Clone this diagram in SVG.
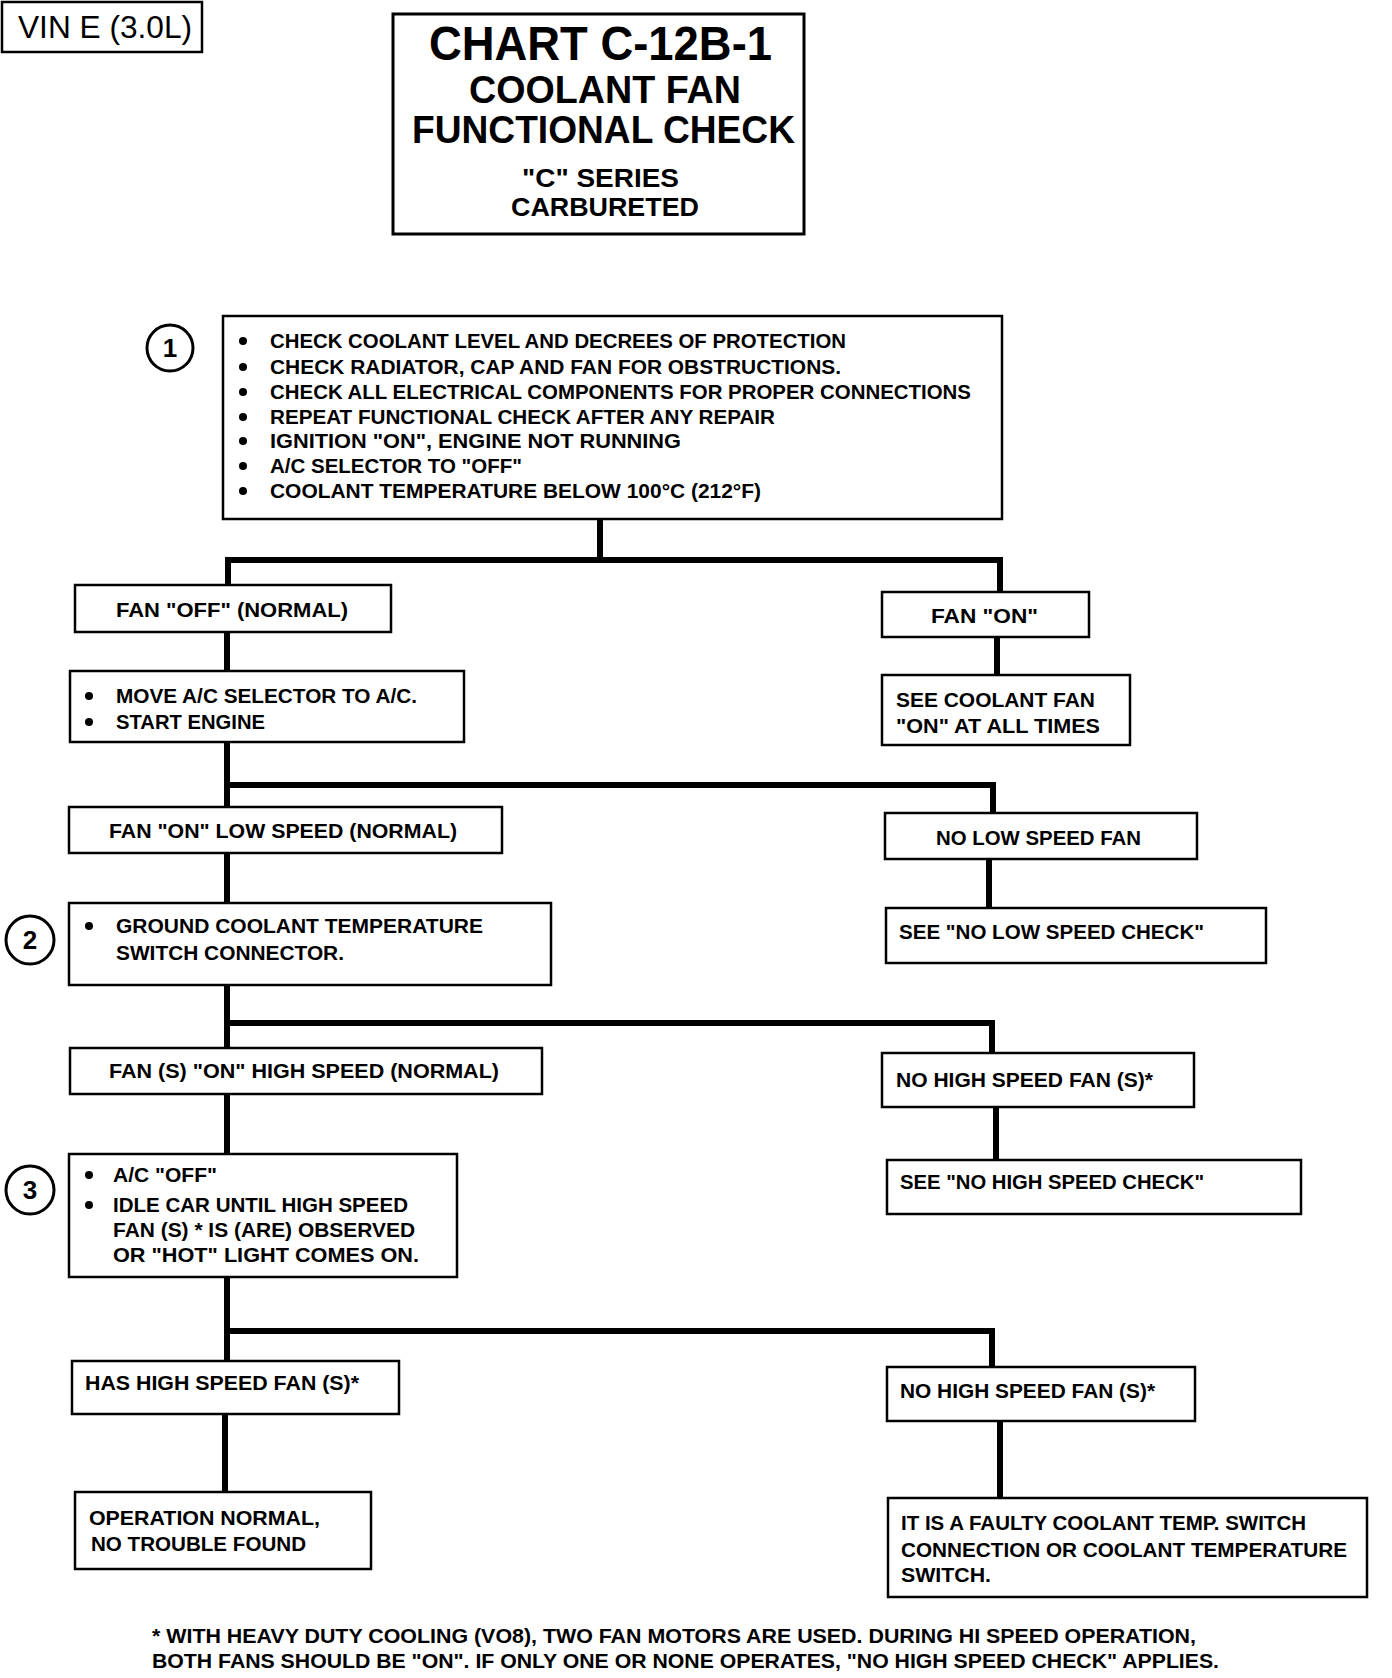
<svg xmlns="http://www.w3.org/2000/svg" width="1392" height="1678" viewBox="0 0 1392 1678">
<style>
.box{fill:#fff;stroke:#000;stroke-width:2.5}
.t{font-family:"Liberation Sans",Arial,sans-serif;font-weight:bold;font-size:21px;fill:#000}
.c{stroke:#000;stroke-width:6;fill:none;stroke-linecap:square}
.num{fill:#fff;stroke:#000;stroke-width:3}
.nt{font-family:"Liberation Sans",Arial,sans-serif;font-weight:bold;font-size:26px;fill:#000;text-anchor:middle}
</style>
<rect width="1392" height="1678" fill="#fff"/>
<g id="connectors">
<polyline class="c" points="600,519 600,560"/>
<polyline class="c" points="228,585 228,560 1000,560 1000,592"/>
<line class="c" x1="227" y1="632" x2="227" y2="670"/>
<line class="c" x1="997" y1="637" x2="997" y2="675"/>
<polyline class="c" points="227,742 227,807"/>
<polyline class="c" points="227,785 993,785 993,813"/>
<line class="c" x1="989" y1="859" x2="989" y2="908"/>
<line class="c" x1="227" y1="853" x2="227" y2="902"/>
<polyline class="c" points="227,985 227,1048"/>
<polyline class="c" points="227,1023 992,1023 992,1053"/>
<line class="c" x1="996" y1="1107" x2="996" y2="1160"/>
<line class="c" x1="227" y1="1094" x2="227" y2="1153"/>
<polyline class="c" points="227,1277 227,1361"/>
<polyline class="c" points="227,1331 992,1331 992,1367"/>
<line class="c" x1="225" y1="1414" x2="225" y2="1492"/>
<line class="c" x1="1000" y1="1421" x2="1000" y2="1497"/>
</g>
<g id="vin">
<rect x="2" y="2" width="200" height="50" fill="#fff" stroke="#000" stroke-width="2.5"/>
<text x="18" y="38" font-family="'Liberation Sans',Arial,sans-serif" font-size="31" textLength="174" lengthAdjust="spacingAndGlyphs">VIN E (3.0L)</text>
</g>
<g id="title">
<rect x="393" y="14" width="411" height="220" fill="#fff" stroke="#000" stroke-width="3"/>
<text class="t" x="429" y="60" style="font-size:48px" textLength="343" lengthAdjust="spacingAndGlyphs">CHART C-12B-1</text>
<text class="t" x="469" y="103" style="font-size:38px" textLength="272" lengthAdjust="spacingAndGlyphs">COOLANT FAN</text>
<text class="t" x="412" y="143" style="font-size:38px" textLength="383" lengthAdjust="spacingAndGlyphs">FUNCTIONAL  CHECK</text>
<text class="t" x="522" y="187" style="font-size:26px" textLength="157" lengthAdjust="spacingAndGlyphs">"C" SERIES</text>
<text class="t" x="511" y="216" style="font-size:26px" textLength="188" lengthAdjust="spacingAndGlyphs">CARBURETED</text>
</g>
<g id="step1">
<circle class="num" cx="170" cy="348" r="23"/>
<text class="nt" x="170" y="357">1</text>
</g>
<g id="box1">
<rect class="box" x="223" y="316" width="779" height="203"/>
<circle cx="243" cy="341" r="4"/><text class="t" x="270" y="348" textLength="576" lengthAdjust="spacingAndGlyphs">CHECK COOLANT LEVEL AND DECREES OF PROTECTION</text>
<circle cx="243" cy="367" r="4"/><text class="t" x="270" y="374" textLength="571" lengthAdjust="spacingAndGlyphs">CHECK RADIATOR, CAP AND FAN FOR OBSTRUCTIONS.</text>
<circle cx="243" cy="392" r="4"/><text class="t" x="270" y="399" textLength="701" lengthAdjust="spacingAndGlyphs">CHECK ALL ELECTRICAL COMPONENTS FOR PROPER CONNECTIONS</text>
<circle cx="243" cy="417" r="4"/><text class="t" x="270" y="424" textLength="505" lengthAdjust="spacingAndGlyphs">REPEAT FUNCTIONAL CHECK AFTER ANY REPAIR</text>
<circle cx="243" cy="441" r="4"/><text class="t" x="270" y="448" textLength="411" lengthAdjust="spacingAndGlyphs">IGNITION "ON", ENGINE NOT RUNNING</text>
<circle cx="243" cy="466" r="4"/><text class="t" x="270" y="473" textLength="252" lengthAdjust="spacingAndGlyphs">A/C SELECTOR TO "OFF"</text>
<circle cx="243" cy="491" r="4"/><text class="t" x="270" y="498" textLength="491" lengthAdjust="spacingAndGlyphs">COOLANT TEMPERATURE BELOW 100°C (212°F)</text>
</g>
<g id="fan-off">
<rect class="box" x="75" y="585" width="316" height="47"/>
<text class="t" x="116" y="617" textLength="232" lengthAdjust="spacingAndGlyphs">FAN "OFF" (NORMAL)</text>
</g>
<g id="move-ac">
<rect class="box" x="70" y="671" width="394" height="71"/>
<circle cx="89" cy="696" r="4"/><text class="t" x="116" y="703" textLength="301" lengthAdjust="spacingAndGlyphs">MOVE A/C SELECTOR TO A/C.</text>
<circle cx="89" cy="722" r="4"/><text class="t" x="116" y="729" textLength="149" lengthAdjust="spacingAndGlyphs">START ENGINE</text>
</g>
<g id="fan-on">
<rect class="box" x="882" y="592" width="207" height="45"/>
<text class="t" x="931" y="623" textLength="107" lengthAdjust="spacingAndGlyphs">FAN "ON"</text>
</g>
<g id="see-on-all">
<rect class="box" x="882" y="675" width="248" height="70"/>
<text class="t" x="896" y="707" textLength="199" lengthAdjust="spacingAndGlyphs">SEE  COOLANT FAN</text>
<text class="t" x="896" y="733" textLength="204" lengthAdjust="spacingAndGlyphs">"ON" AT ALL TIMES</text>
</g>
<g id="low-normal">
<rect class="box" x="69" y="807" width="433" height="46"/>
<text class="t" x="109" y="838" textLength="348" lengthAdjust="spacingAndGlyphs">FAN "ON" LOW SPEED (NORMAL)</text>
</g>
<g id="no-low">
<rect class="box" x="885" y="813" width="312" height="46"/>
<text class="t" x="936" y="845" textLength="205" lengthAdjust="spacingAndGlyphs">NO LOW SPEED FAN</text>
</g>
<g id="see-no-low">
<rect class="box" x="886" y="908" width="380" height="55"/>
<text class="t" x="899" y="939" textLength="305" lengthAdjust="spacingAndGlyphs">SEE  "NO LOW SPEED CHECK"</text>
</g>
<g id="step2">
<circle class="num" cx="30" cy="940" r="24"/>
<text class="nt" x="30" y="949">2</text>
</g>
<g id="ground">
<rect class="box" x="69" y="903" width="482" height="82"/>
<circle cx="89" cy="926" r="4"/><text class="t" x="116" y="933" textLength="367" lengthAdjust="spacingAndGlyphs">GROUND COOLANT TEMPERATURE</text>
<text class="t" x="116" y="960" textLength="228" lengthAdjust="spacingAndGlyphs">SWITCH CONNECTOR.</text>
</g>
<g id="high-normal">
<rect class="box" x="70" y="1048" width="472" height="46"/>
<text class="t" x="109" y="1078" textLength="390" lengthAdjust="spacingAndGlyphs">FAN (S) "ON" HIGH SPEED (NORMAL)</text>
</g>
<g id="no-high-1">
<rect class="box" x="882" y="1053" width="312" height="54"/>
<text class="t" x="896" y="1087" textLength="257" lengthAdjust="spacingAndGlyphs">NO HIGH SPEED FAN (S)*</text>
</g>
<g id="see-no-high">
<rect class="box" x="887" y="1160" width="414" height="54"/>
<text class="t" x="900" y="1189" textLength="304" lengthAdjust="spacingAndGlyphs">SEE  "NO HIGH SPEED CHECK"</text>
</g>
<g id="step3">
<circle class="num" cx="30" cy="1190" r="24"/>
<text class="nt" x="30" y="1199">3</text>
</g>
<g id="idle">
<rect class="box" x="69" y="1154" width="388" height="123"/>
<circle cx="89" cy="1175" r="4"/><text class="t" x="113" y="1182" textLength="104" lengthAdjust="spacingAndGlyphs">A/C "OFF"</text>
<circle cx="89" cy="1205" r="4"/><text class="t" x="113" y="1212" textLength="295" lengthAdjust="spacingAndGlyphs">IDLE CAR UNTIL HIGH SPEED</text>
<text class="t" x="113" y="1237" textLength="302" lengthAdjust="spacingAndGlyphs">FAN (S) * IS (ARE) OBSERVED</text>
<text class="t" x="113" y="1262" textLength="306" lengthAdjust="spacingAndGlyphs">OR "HOT" LIGHT COMES ON.</text>
</g>
<g id="has-high">
<rect class="box" x="72" y="1361" width="327" height="53"/>
<text class="t" x="85" y="1390" textLength="274" lengthAdjust="spacingAndGlyphs">HAS HIGH SPEED FAN (S)*</text>
</g>
<g id="no-high-2">
<rect class="box" x="887" y="1367" width="308" height="54"/>
<text class="t" x="900" y="1398" textLength="255" lengthAdjust="spacingAndGlyphs">NO HIGH SPEED FAN (S)*</text>
</g>
<g id="normal">
<rect class="box" x="75" y="1492" width="296" height="77"/>
<text class="t" x="89" y="1525" textLength="231" lengthAdjust="spacingAndGlyphs">OPERATION NORMAL,</text>
<text class="t" x="91" y="1551" textLength="215" lengthAdjust="spacingAndGlyphs">NO TROUBLE FOUND</text>
</g>
<g id="faulty">
<rect class="box" x="888" y="1498" width="479" height="99"/>
<text class="t" x="901" y="1530" textLength="405" lengthAdjust="spacingAndGlyphs">IT IS A FAULTY COOLANT TEMP. SWITCH</text>
<text class="t" x="901" y="1557" textLength="446" lengthAdjust="spacingAndGlyphs">CONNECTION OR COOLANT TEMPERATURE</text>
<text class="t" x="901" y="1582" textLength="90" lengthAdjust="spacingAndGlyphs">SWITCH.</text>
</g>
<g id="footnote">
<text class="t" x="152" y="1643" textLength="1044" lengthAdjust="spacingAndGlyphs">*  WITH HEAVY DUTY COOLING (VO8), TWO FAN MOTORS ARE USED. DURING HI SPEED OPERATION,</text>
<text class="t" x="152" y="1668" textLength="1067" lengthAdjust="spacingAndGlyphs">BOTH FANS SHOULD BE "ON". IF ONLY ONE OR NONE OPERATES, "NO HIGH SPEED CHECK" APPLIES.</text>
</g>
</svg>
